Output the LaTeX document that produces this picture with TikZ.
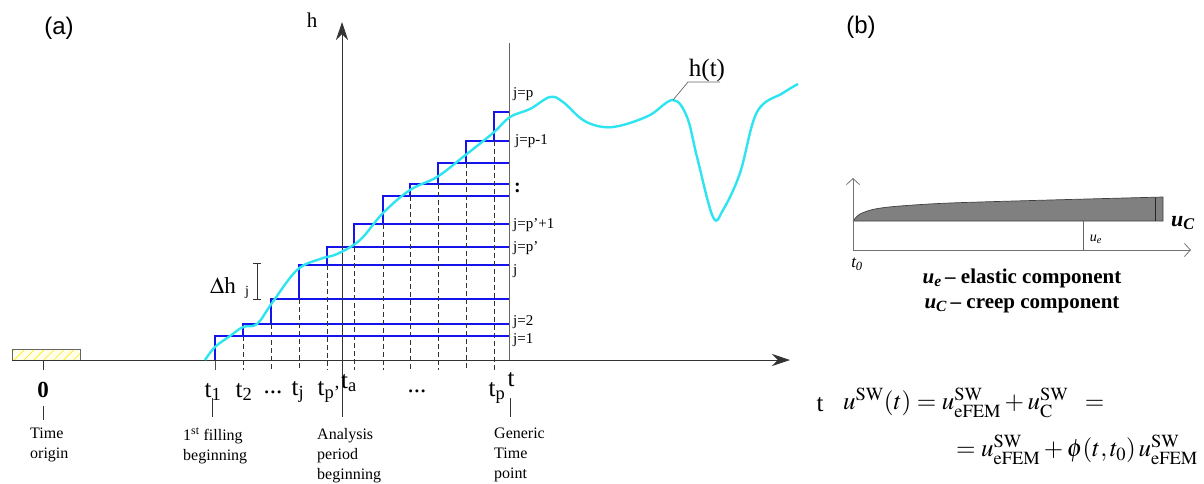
\documentclass[tikz,border=0pt]{standalone}
\usepackage{mathptmx}
\usepackage{fontspec}
\setmainfont{Liberation Serif}
\newfontfamily\panelfont{Liberation Sans}
\usetikzlibrary{arrows.meta,patterns.meta}
\definecolor{hcurve}{RGB}{45,228,240}
\definecolor{stepblue}{RGB}{20,20,235}

\newcommand*{\axisy}{360}
\newcommand*{\axisxmin}{12}
\newcommand*{\axisxmax}{790}
\newcommand*{\hx}{342}
\newcommand*{\tx}{509}

\begin{document}
\begin{tikzpicture}
[
	x=1pt,y=-1pt,
	stepline/.style={stepblue,line width=1.3pt},
	guide/.style={black!80,line width=0.6pt,dash pattern=on 5pt off 3pt},
	vline/.style={black!60,line width=0.9pt},
	axis/.style={black!80,line width=0.8pt,-{Stealth[length=18pt,width=12pt]}},
	jlabel/.style={anchor=west,inner sep=0pt,font=\fontsize{15}{15}\selectfont},
	tlabel/.style={inner sep=0pt,font=\fontsize{25}{25}\selectfont},
	note/.style={anchor=north west,align=left,inner sep=0pt,font=\fontsize{16}{20}\selectfont},
	panel/.style={inner sep=0pt,font=\panelfont\fontsize{24}{24}\selectfont},
	baxis/.style={black!55,line width=0.8pt,-{Straight Barb[length=6pt,width=13pt]}},
	legend/.style={inner sep=0pt,font=\fontsize{21}{27}\selectfont\bfseries}
]
	\useasboundingbox (0,0) rectangle (1204,483);

	% panel labels
	\node[panel] (pa) at (59,28) {(a)};
	\node[panel] (pb) at (861,27) {(b)};

	% time origin box
	\fill[yellow!8] (12,349) rectangle (80,360);
	\fill[pattern={Lines[angle=45,distance=7pt,line width=0.6pt]},pattern color=yellow!85!orange] (12,349) rectangle (80,360);
	\draw[black!60,line width=0.8pt] (12,349) rectangle (80,360);

	% steps
	\foreach \x/\ylo/\yhi in {215/360/336,243/336/324,271/324/299,299/299/265,327/265/247,354/247/224,383/224/196,410/196/184,438/184/163,466/163/141,494/141/112} {
		\draw[guide] (\x,\ylo) -- (\x,370);
		\draw[stepline] (\x,\ylo) -- (\x,\yhi) -- (\tx,\yhi);
	}
	\draw[stepblue,line width=2pt] (215,360) -- (215,336) -- (\tx,336);
	\draw[black!70,line width=0.8pt] (215,360) -- (215,370);

	% axes
	\draw[axis] (\axisxmin,\axisy) -- (\axisxmax,\axisy);
	\draw[axis] (\hx,417) -- (\hx,22);
	\draw[vline] (\tx,43) -- (\tx,\axisy);
	\node[inner sep=0pt,font=\fontsize{21}{21}\selectfont] (hlab) at (312,20) {h};
	\node[tlabel] (tlab) at (820,405) {t};

	% level labels
	\node[jlabel] (j1) at (513,340) {j=1};
	\node[jlabel] (j2) at (513,322) {j=2};
	\node[jlabel] (jj) at (513,271) {j};
	\node[jlabel] (jp) at (513,248) {j=p'};
	\node[jlabel] (jp1) at (513,225) {j=p'+1};
	\node[jlabel,font=\fontsize{20}{20}\selectfont\bfseries] (jdots) at (514,188) {:};
	\node[jlabel] (jpm) at (515,141) {j=p-1};
	\node[jlabel] (jpp) at (513,94) {j=p};

	% delta h
	\node[inner sep=0pt,font=\fontsize{23}{23}\selectfont] (dh) at (223,286) {$\Delta$h};
	\node[inner sep=0pt,font=\fontsize{14}{14}\selectfont] (dhj) at (247,292) {j};
	\draw[black!80,line width=0.7pt,{Bar[width=8pt]}-{Bar[width=8pt]}] (257,263) -- (257,300);

	% curve h(t)
	\draw[hcurve,line width=2.4pt] plot[smooth,tension=0.6] coordinates {
		(205,360) (215,347) (230,336) (243,327) (257,324) (272,303) (297,270)
		(320,259) (337,254) (360,240) (383,213) (410,190) (437,177) (463,157)
		(493,133) (510,117) (530,109) (550,97) (563,102) (583,120) (603,127)
		(623,125) (650,115) (673,100) (687,117) (697,157) (713,217) (723,210)
		(740,173) (757,112) (783,93) (798,84)};
	\coordinate (hpt) at (673,100);
	\coordinate (hbend) at (688,82);
	\draw[black!60,line width=0.7pt] (hpt) -- (hbend) -- ++(32,0);
	\node[inner sep=0pt,font=\fontsize{25}{25}\selectfont] (hlabel) at (707,70) {h(t)};

	% time ticks and labels
	\node[inner sep=0pt,font=\fontsize{23}{23}\selectfont\bfseries] (zero) at (43,390) {0};
	\draw[black!80,line width=0.8pt] (43,360) -- (43,370);
	\draw[black!80,line width=0.8pt] (43,406) -- (43,420);
	\node[tlabel] (t1) at (213,392) {t\textsubscript{1}};
	\node[tlabel] (t2) at (244,392) {t\textsubscript{2}};
	\node[tlabel] (td1) at (273,392) {...};
	\node[tlabel] (tj) at (298,392) {t\textsubscript{j}};
	\node[tlabel] (tpp) at (329,392) {t\textsubscript{p'}};
	\node[tlabel] (ta) at (349,383) {t\textsubscript{a}};
	\node[tlabel] (td2) at (417,391) {...};
	\node[tlabel] (tp) at (497,393) {t\textsubscript{p}};
	\node[tlabel] (tt) at (511,380) {t};
	\draw[black!80,line width=0.8pt] (212,398) -- (212,417);
	\draw[black!80,line width=0.8pt] (510,398) -- (510,417);

	% notes
	\node[note] (origin) at (30,428) {Time\\origin};
	\node[note] (fill) at (183,428) {1\textsuperscript{st} filling\\beginning};
	\node[note] (period) at (317,428) {Analysis\\period\\beginning};
	\node[note] (generic) at (494,428) {Generic\\Time\\point};

	% panel b: creep sketch
	\fill[black!50] plot[smooth,tension=0.5] coordinates {(853,221) (860,214) (875,209) (900,206) (950,203) (1050,200) (1163,197)} -- (1163,221) -- cycle;
	\draw[black!75,line width=0.7pt] plot[smooth,tension=0.5] coordinates {(853,221) (860,214) (875,209) (900,206) (950,203) (1050,200) (1163,197)} -- (1163,221) -- (853,221);
	\draw[black!85,line width=1pt] (1155,198) -- (1155,221);
	\draw[black!60,line width=0.7pt] (1083,221) -- (1083,250);
	\draw[baxis] (853,250) -- (853,178);
	\draw[baxis] (853,250) -- (1191,250);
	\node[inner sep=0pt,font=\fontsize{14}{14}\selectfont\itshape] (ue) at (1096,239) {u\textsubscript{e}};
	\node[inner sep=0pt,font=\fontsize{17}{17}\selectfont\itshape] (t0) at (857,264) {t\textsubscript{0}};
	\node[inner sep=0pt,font=\fontsize{22}{22}\selectfont\bfseries\itshape] (uc) at (1183,223) {u\textsubscript{C}};
	\node[legend] (lege) at (1022,278) {\textit{u}\textsubscript{\textit{e}}\,– elastic component};
	\node[legend] (legc) at (1022,305) {\textit{u}\textsubscript{\textit{C}}\,– creep component};

	% equation
	\node[anchor=west,inner sep=0pt,font=\fontsize{25}{25}\selectfont] (eq1) at (843,403)
		{$u^{\mathrm{SW}}(t) = u^{\mathrm{SW}}_{\mathrm{eFEM}} + u^{\mathrm{SW}}_{\mathrm{C}} \;\;=$};
	\node[anchor=east,inner sep=0pt,font=\fontsize{25}{25}\selectfont] (eq2) at (1198,450)
		{$= u^{\mathrm{SW}}_{\mathrm{eFEM}} + \phi(t,t_0)\, u^{\mathrm{SW}}_{\mathrm{eFEM}}$};

\end{tikzpicture}
\end{document}
